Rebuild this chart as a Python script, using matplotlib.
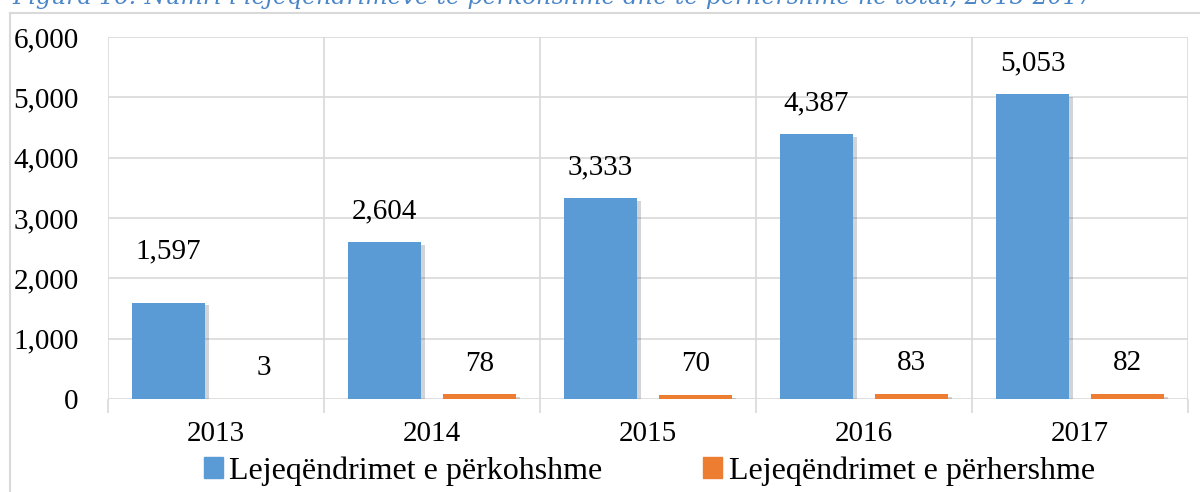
import matplotlib.pyplot as plt
import matplotlib.patheffects as pe
from matplotlib.lines import Line2D
from matplotlib.patches import Patch
import numpy as np

years = ['2013', '2014', '2015', '2016', '2017']
perkohshme = [1597, 2604, 3333, 4387, 5053]
perhershme = [3, 78, 70, 83, 82]
labels = ['Lejeqëndrimet e përkohshme', 'Lejeqëndrimet e përhershme']
title = 'Figura 16: Numri i lejeqëndrimeve të përkohshme dhe të përhershme në total, 2013-2017'

blue = '#5B9BD5'
orange = '#ED7D31'
grid_c = '#D9D9D9'
font = ['Liberation Serif', 'DejaVu Serif']
fs = 21

fig = plt.figure(figsize=(12, 4.92), dpi=100)
ax = fig.add_axes([108 / 1200, 1 - 399 / 492, 1080 / 1200, 362 / 492])

x = np.arange(len(years))
w = 0.338
off = 0.22
shadow = [pe.SimplePatchShadow(offset=(3, -2), alpha=0.2), pe.Normal()]
ax.bar(x - off, perkohshme, w, color=blue, zorder=3, path_effects=shadow)
ax.bar(x + off, perhershme, w, color=orange, zorder=3, path_effects=shadow)

for i, v in enumerate(perkohshme):
    dy = 37 if i == 0 else 22
    ax.annotate(f'{v:,}', (x[i] - off, v), xytext=(0, dy), textcoords='offset points',
                ha='center', va='center', fontsize=fs, family=font)
for i, v in enumerate(perhershme):
    ax.annotate(f'{v:,}', (x[i] + off, v), xytext=(0, 22), textcoords='offset points',
                ha='center', va='center', fontsize=fs, family=font)

ax.set_xlim(-0.5, len(years) - 0.5)
ax.set_ylim(0, 6000)
ax.set_yticks(range(0, 6001, 1000))
ax.set_yticklabels([f'{t:,}' for t in range(0, 6001, 1000)], fontsize=fs, family=font)
ax.set_xticks(x)
ax.set_xticklabels(years, fontsize=fs, family=font)
ax.set_xticks(np.arange(-0.5, len(years)), minor=True)
ax.tick_params(axis='x', which='major', length=0, pad=16)
ax.tick_params(axis='x', which='minor', length=10, color=grid_c, width=1.2)
ax.tick_params(axis='y', length=0, pad=21)
ax.grid(axis='y', color=grid_c, lw=1.2, zorder=0)
ax.grid(axis='x', which='minor', color=grid_c, lw=1.2, zorder=0)
for s in ax.spines.values():
    s.set_visible(False)

# outer chart frame
fig.add_artist(Line2D([10 / 1200, 10 / 1200], [0, 1 - 13 / 492], color=grid_c, lw=1.5))
fig.add_artist(Line2D([10 / 1200, 1], [1 - 13 / 492, 1 - 13 / 492], color=grid_c, lw=1.5))

# caption above the chart, clipped by the top edge as in the source
fig.text(12 / 1200, 1 - 4 / 492, title, fontsize=17, style='italic', color='#4A86C8',
         family=['DejaVu Serif'], va='baseline', ha='left')

handles = [Patch(color=blue), Patch(color=orange)]
fig.legend(handles, labels, loc='center', bbox_to_anchor=(0.541, 1 - 471 / 492), ncol=2,
           frameon=False, prop={'family': font, 'size': 23}, handlelength=0.6, handleheight=0.6,
           handletextpad=0.2, columnspacing=3.15, borderaxespad=0)

fig.savefig('out.png', dpi=100)
